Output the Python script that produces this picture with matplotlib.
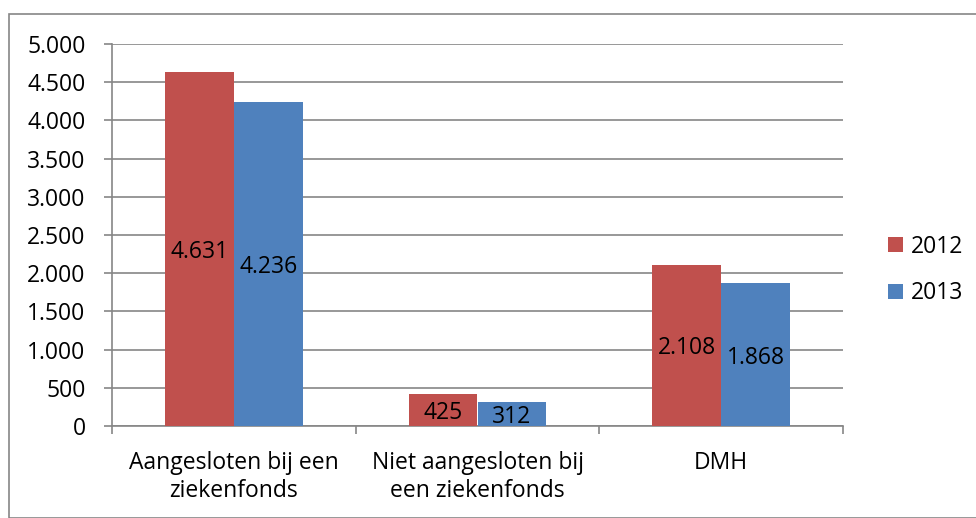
import numpy as np
import matplotlib.pyplot as plt
from matplotlib.patches import Rectangle

categories = ["Aangesloten bij een\nziekenfonds", "Niet aangesloten bij\neen ziekenfonds", "DMH"]
series_names = ["2012", "2013"]
values_2012 = [4631, 425, 2108]
values_2013 = [4236, 312, 1868]
colors = ["#C0504D", "#4F81BD"]
yticks = [0, 500, 1000, 1500, 2000, 2500, 3000, 3500, 4000, 4500, 5000]

plt.rcParams['font.family'] = ['Open Sans', 'DejaVu Sans']
FS = 16.5


def fmt(v):
    return f"{v:,}".replace(",", ".")


fig = plt.figure(figsize=(9.76, 5.18), dpi=100)
ax = fig.add_axes([112 / 976, 1 - 426 / 518, (843 - 112) / 976, (426 - 44) / 518])

# outer chart border
fig.patches.append(Rectangle((9 / 976, 0), 1.0, 1 - 14 / 518, transform=fig.transFigure,
                             fill=False, edgecolor="#868686", linewidth=1.2))

x = np.arange(len(categories))
w = 0.283
grey = "#868686"

for i, (vals, name, c) in enumerate(zip([values_2012, values_2013], series_names, colors)):
    pos = x + (i - 0.5) * w
    bars = ax.bar(pos, vals, width=w, color=c, label=name, zorder=3)
    for b, v in zip(bars, vals):
        ax.text(b.get_x() + b.get_width() / 2, v / 2, fmt(v), ha="center", va="center_baseline",
                fontsize=FS, color="black", zorder=4)

ax.set_xlim(-0.5, 2.5)
ax.set_ylim(0, 5000)
ax.set_yticks(yticks)
ax.set_yticklabels([fmt(v) for v in yticks], fontsize=FS)
ax.yaxis.grid(True, color=grey, linewidth=1.2, zorder=0)

ax.set_xticks(x)
ax.set_xticklabels(categories, fontsize=FS, linespacing=1.2)
ax.tick_params(axis="x", length=0, pad=18)
ax.set_xticks([-0.5, 0.5, 1.5, 2.5], minor=True)
ax.tick_params(axis="x", which="minor", length=6, color=grey, width=1.2)
ax.tick_params(axis="y", length=6, color=grey, width=1.2, pad=13)

for s in ["top", "right"]:
    ax.spines[s].set_visible(False)
for s in ["left", "bottom"]:
    ax.spines[s].set_color(grey)
    ax.spines[s].set_linewidth(1.2)

ax.legend(loc="center left", bbox_to_anchor=(867 / 976, 1 - 270 / 518), bbox_transform=fig.transFigure,
          frameon=False, fontsize=FS, handlelength=0.65, handleheight=0.65, labelspacing=1.0,
          handletextpad=0.35)

fig.savefig("out.png", dpi=100)
